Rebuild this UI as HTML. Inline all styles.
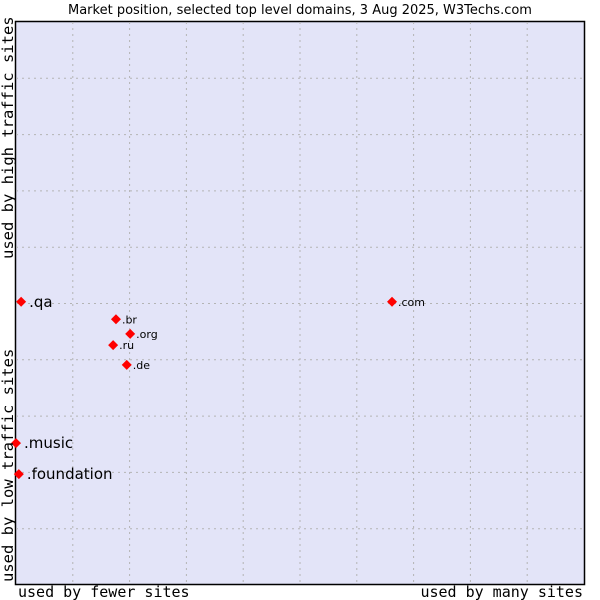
<!DOCTYPE html>
<html><head><meta charset="utf-8"><style>
body{margin:0;background:#fff;}
svg{display:block;font-family:"DejaVu Sans","Liberation Sans",sans-serif;}
.mono{font-family:"DejaVu Sans Mono","Liberation Mono",monospace;}
</style></head><body>
<svg id="chart" width="600" height="600">
<text x="300" y="14" text-anchor="middle" font-size="13" fill="#000">Market position, selected top level domains, 3 Aug 2025, W3Techs.com</text>
<rect x="15.5" y="21.5" width="569" height="563" fill="#e3e4f8" stroke="#000" stroke-width="1.5"/>
<g id="grid"></g>
<g id="marks"></g>
<text class="mono" x="18" y="597" font-size="15">used by fewer sites</text>
<text class="mono" x="583" y="597" font-size="15" text-anchor="end">used by many sites</text>
<text class="mono" transform="translate(13,582) rotate(-90)" font-size="15.5">used by low traffic sites</text>
<text class="mono" transform="translate(13,259) rotate(-90)" font-size="15.5">used by high traffic sites</text>
</svg>
<script>
const names = [".qa", ".br", ".org", ".ru", ".de", ".com", ".music", ".foundation"];
const xValues = [0.9, 17.6, 20.1, 17.1, 19.5, 66.2, 0.0, 0.5];
const yValues = [50.3, 47.2, 44.6, 42.6, 39.1, 50.3, 25.2, 19.7];
const highlighted = [true, false, false, false, false, false, true, true];
const gridTicks = [10, 20, 30, 40, 50, 60, 70, 80, 90];
const X0=16, X1=584, Y0=585, Y1=22;
const xs = v => X0 + v/100*(X1-X0);
const ys = v => Y0 - v/100*(Y0-Y1);
const NS="http://www.w3.org/2000/svg";
const grid=document.getElementById('grid'), marks=document.getElementById('marks');
gridTicks.forEach(t=>{
  const v=document.createElementNS(NS,'line');
  v.setAttribute('x1',xs(t));v.setAttribute('x2',xs(t));v.setAttribute('y1',Y1);v.setAttribute('y2',Y0);
  v.setAttribute('stroke','#b4b4b4');v.setAttribute('stroke-dasharray','2,4');
  
  
  grid.appendChild(v);
  const h=document.createElementNS(NS,'line');
  h.setAttribute('y1',ys(t));h.setAttribute('y2',ys(t));h.setAttribute('x1',X0);h.setAttribute('x2',X1);
  h.setAttribute('stroke','#b4b4b4');h.setAttribute('stroke-dasharray','2,4');
  
  
  grid.appendChild(h);
});
names.forEach((n,i)=>{
  const x=xs(xValues[i]), y=ys(yValues[i]);
  const p=document.createElementNS(NS,'polygon');
  p.setAttribute('points',`${x},${y-5} ${x+5},${y} ${x},${y+5} ${x-5},${y}`);
  p.setAttribute('fill','#f00');
  
  
  marks.appendChild(p);
  const t=document.createElementNS(NS,'text');
  const big=highlighted[i];
  t.setAttribute('x',x+(big?8:6));t.setAttribute('y',y+(big?5:4));
  t.setAttribute('font-size',big?15:11);
  t.textContent=n;
  
  
  marks.appendChild(t);
});
</script>
</body></html>
